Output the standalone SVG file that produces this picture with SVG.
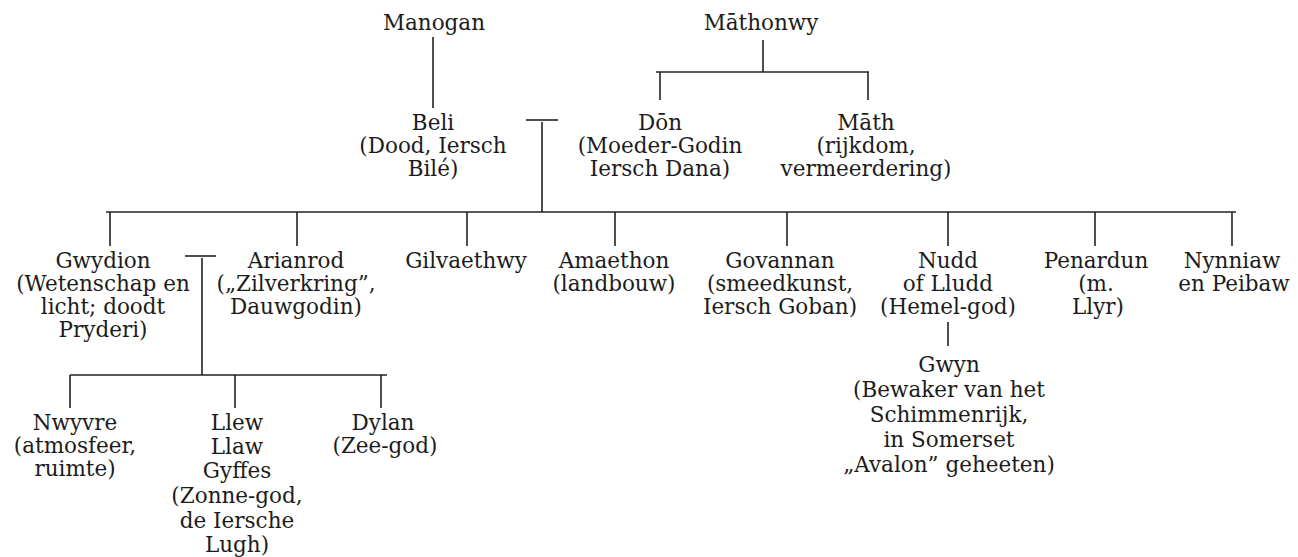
<svg xmlns="http://www.w3.org/2000/svg" width="1298" height="557" viewBox="0 0 1298 557">
<style>
text{font-family:"DejaVu Serif","Liberation Serif",serif;font-size:21.5px;fill:#1c1c1c;text-anchor:middle}
.c line{stroke:#222;stroke-width:1.6}
</style>
<rect width="1298" height="557" fill="#fff"/>
<g class="c" id="connectors">
<line x1="433" y1="37" x2="433" y2="108"/>
<line x1="763" y1="40" x2="763" y2="72"/>
<line x1="656" y1="72" x2="869" y2="72"/>
<line x1="660" y1="72" x2="660" y2="100"/>
<line x1="868" y1="72" x2="868" y2="100"/>
<line x1="526" y1="120" x2="558" y2="120"/>
<line x1="542" y1="122" x2="542" y2="212"/>
<line x1="106" y1="212" x2="1236" y2="212"/>
<line x1="110" y1="212" x2="110" y2="246"/>
<line x1="297" y1="212" x2="297" y2="246"/>
<line x1="467" y1="212" x2="467" y2="246"/>
<line x1="615" y1="212" x2="615" y2="246"/>
<line x1="787" y1="212" x2="787" y2="246"/>
<line x1="948" y1="212" x2="948" y2="246"/>
<line x1="1095" y1="212" x2="1095" y2="246"/>
<line x1="1232" y1="212" x2="1232" y2="246"/>
<line x1="185" y1="256" x2="216" y2="256"/>
<line x1="202" y1="258" x2="202" y2="375"/>
<line x1="70" y1="375" x2="387" y2="375"/>
<line x1="70" y1="375" x2="70" y2="408"/>
<line x1="235" y1="375" x2="235" y2="408"/>
<line x1="381" y1="375" x2="381" y2="408"/>
<line x1="948" y1="322" x2="948" y2="346"/>
</g>
<g id="manogan"><text x="434" y="30">Manogan</text></g>
<g id="mathonwy"><text x="761" y="30">Māthonwy</text></g>
<g id="beli"><text x="433" y="130">Beli</text><text x="433" y="153">(Dood, Iersch</text><text x="433" y="176">Bilé)</text></g>
<g id="don"><text x="660" y="130">Dōn</text><text x="660" y="153">(Moeder-Godin</text><text x="660" y="176">Iersch  Dana)</text></g>
<g id="math"><text x="866" y="130">Māth</text><text x="866" y="153">(rijkdom,</text><text x="866" y="176">vermeerdering)</text></g>
<g id="gwydion"><text x="103" y="268">Gwydion</text><text x="103" y="291">(Wetenschap en</text><text x="103" y="314">licht;  doodt</text><text x="103" y="337">Pryderi)</text></g>
<g id="arianrod"><text x="296" y="268">Arianrod</text><text x="296" y="291">(„Zilverkring”,</text><text x="296" y="314">Dauwgodin)</text></g>
<g id="gilvaethwy"><text x="466" y="268">Gilvaethwy</text></g>
<g id="amaethon"><text x="614" y="268">Amaethon</text><text x="614" y="291">(landbouw)</text></g>
<g id="govannan"><text x="780" y="268">Govannan</text><text x="780" y="291">(smeedkunst,</text><text x="780" y="314">Iersch  Goban)</text></g>
<g id="nudd"><text x="948" y="268">Nudd</text><text x="948" y="291">of Lludd</text><text x="948" y="314">(Hemel-god)</text></g>
<g id="penardun"><text x="1096" y="268">Penardun</text><text x="1096" y="291">(m.</text><text x="1098" y="314">Llyr)</text></g>
<g id="nynniaw"><text x="1232" y="268">Nynniaw</text><text x="1234" y="291">en  Peibaw</text></g>
<g id="gwyn"><text x="949" y="372">Gwyn</text><text x="949" y="397">(Bewaker van het</text><text x="949" y="422">Schimmenrijk,</text><text x="949" y="447">in Somerset</text><text x="949" y="472">„Avalon” geheeten)</text></g>
<g id="nwyvre"><text x="75" y="430">Nwyvre</text><text x="75" y="453">(atmosfeer,</text><text x="75" y="476">ruimte)</text></g>
<g id="llew"><text x="237" y="430">Llew</text><text x="237" y="454">Llaw</text><text x="237" y="478">Gyffes</text><text x="237" y="503">(Zonne-god,</text><text x="237" y="528">de Iersche</text><text x="237" y="552">Lugh)</text></g>
<g id="dylan"><text x="383" y="430">Dylan</text><text x="385" y="453">(Zee-god)</text></g>
</svg>
